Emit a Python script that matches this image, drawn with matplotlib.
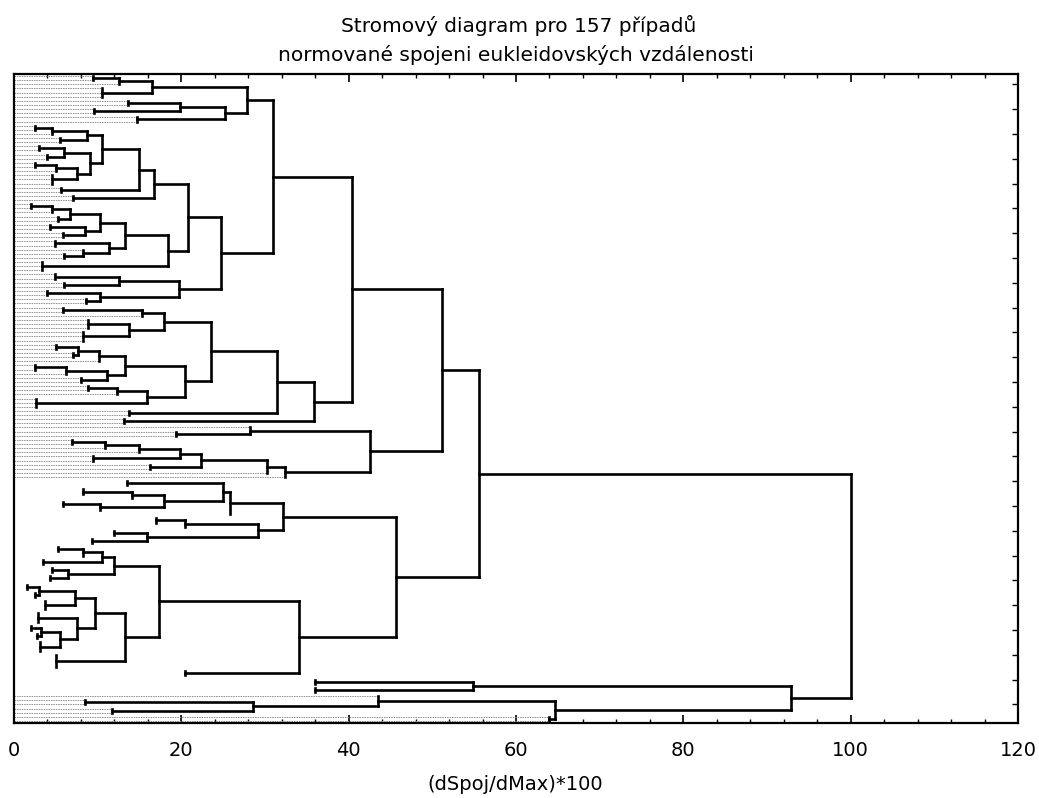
import matplotlib
matplotlib.use("Agg")
import matplotlib.pyplot as plt
from matplotlib.ticker import MultipleLocator
import numpy as np

plt.rcParams["font.family"] = ["DejaVu Sans"]

title_lines = ["Stromový diagram pro 157 případů",
               "normované spojeni eukleidovských vzdálenosti"]
x_label = "(dSpoj/dMax)*100"
x_ticks = [0, 20, 40, 60, 80, 100, 120]

# tree notation: "(a,b)h" = clusters a and b joined at distance h,
# "n@s" = n cases already joined at distance s, "1" = single case
top_part = "(((2@9.5,1)12.5,3@10.5)16.5,((2@13.6,2@9.6)19.8,2@14.7)25.2)27.8"
r1_part = "((2@2.5,1)4.5,2@5.5)8.7"
r2_part = "((2@3,2@4)6,((2@2.5,1)5,3@4.5)7.5)9.1"
s1a_part = "(((2@2,1)4.6,2@5.2)6.7,(2@4.3,2@5.8)8.5)10.3"
s1b_part = "(2@4.9,(1,2@6)8.2)11.4"
p2_part = "((2@4.9,2@6)12.5,(2@4,2@8.6)10.3)19.7"
f1a_part = "((2@5.9,1)15.3,(3@8.9,3@8.3)13.7)17.9"
f1b_part = "((((2@5,2@7)7.7,1)10.1,((2@2.5,1)6.2,2@8)11.1)13.3,((2@8.9,1)12.3,3@2.6)15.9)20.4"
h_part = "(1,2@19.4)28.2"
i_part = "((((((2@6.9,1)10.9,1)14.9,2@9.5)19.8,2@16.3)22.4,1)30.2,1)32.4"
x_part = "(2@13.5,((2@8.3,1)14.1,(2@5.9,1)10.3)17.9)25"
v2_part = "((2@17,1)20.4,(2@11.9,2@9.3)15.9)29.2"
z1_part = "(((2@5.3,1)8.3,2@3.5)10.5,(2@4.5,2@4.3)6.5)11.9"
z2_part = "((((2@1.5,2@2.5)3,3@3.7)7.3,(3@2.9,((2@2,2@2.8)3.2,3@3.1)5.5)7.5)9.7,4@5)13.3"
bottom_part = "((2@36,2@36)54.9,((1,(2@8.5,2@11.7)28.6)43.5,2@64)64.7)92.9"

q_part = f"((({r1_part},{r2_part})10.5,2@5.6)14.9,2@7.1)16.7"
s_part = f"(({s1a_part},{s1b_part})13.3,3@3.3)18.4"
c31_part = f"({top_part},(({q_part},{s_part})20.8,{p2_part})24.8)31"
e_part = f"((({f1a_part},{f1b_part})23.6,2@13.7)31.4,2@13.1)35.8"
u1_part = f"(({c31_part},{e_part})40.4,({h_part},{i_part})42.5)51.1"
u2_part = f"((({x_part},1)25.8,{v2_part})32.2,(({z1_part},{z2_part})17.3,2@20.4)34.1)45.6"
tree_text = f"(({u1_part},{u2_part})55.6,{bottom_part})100"

faded_cases = (98, 149)  # leaf lines lost in the scan


def parse(text):
    pos = 0

    def number():
        nonlocal pos
        start = pos
        while pos < len(text) and (text[pos].isdigit() or text[pos] == "."):
            pos += 1
        return float(text[start:pos])

    def node():
        nonlocal pos
        if text[pos] == "(":
            pos += 1
            kids = [node()]
            while text[pos] == ",":
                pos += 1
                kids.append(node())
            pos += 1
            return {"kids": kids, "h": number()}
        n = int(number())
        s = 0.0
        if pos < len(text) and text[pos] == "@":
            pos += 1
            s = number()
        return {"n": n, "s": s}

    return node()


def layout(nd, counter):
    if "kids" in nd:
        for k in nd["kids"]:
            layout(k, counter)
        ys = [k["y"] for k in nd["kids"]]
        nd["y"] = (min(ys) + max(ys)) / 2
    else:
        nd["leaves"] = list(range(counter[0], counter[0] + nd["n"]))
        counter[0] += nd["n"]
        nd["y"] = float(np.mean(nd["leaves"]))


dark = dict(color="black", lw=1.9, solid_capstyle="projecting", zorder=3)
faint = dict(color="#8c8c8c", lw=0.7, ls=(0, (1.5, 1)), zorder=2)


def draw(ax, nd, parent_h):
    if "kids" in nd:
        ys = [k["y"] for k in nd["kids"]]
        ax.plot([nd["h"], nd["h"]], [min(ys), max(ys)], **dark)
        if parent_h is not None:
            ax.plot([nd["h"], parent_h], [nd["y"], nd["y"]], **dark)
        for k in nd["kids"]:
            draw(ax, k, nd["h"])
    else:
        end = nd["s"] if nd["s"] > 0 else parent_h
        for i in nd["leaves"]:
            if not faded_cases[0] <= i <= faded_cases[1]:
                ax.plot([0, end], [i, i], **faint)
        if nd["s"] > 0:
            ax.plot([nd["s"], nd["s"]], [nd["leaves"][0], nd["leaves"][-1]], **dark)
            ax.plot([nd["s"], parent_h], [nd["y"], nd["y"]], **dark)


root = parse(tree_text)
counter = [0]
layout(root, counter)
n_cases = counter[0]

fig = plt.figure(figsize=(10.39, 7.98), dpi=100)
ax = fig.add_axes([14 / 1039, 1 - 723 / 798, 1004 / 1039, 649 / 798])
draw(ax, root, None)

ax.set_xlim(0, 120)
ax.set_ylim(n_cases - 0.5, -0.5)
ax.set_xticks(x_ticks)
ax.xaxis.set_minor_locator(MultipleLocator(4))
ax.set_yticks(np.arange(2, n_cases, 6))
ax.set_yticklabels([])
ax.tick_params(axis="x", which="major", direction="in", top=True, length=6,
               width=1.2, labelsize=14, pad=13)
ax.tick_params(axis="x", which="minor", direction="in", top=True, length=3, width=1)
ax.tick_params(axis="y", direction="in", left=False, right=True, length=4, width=1)
for sp in ax.spines.values():
    sp.set_linewidth(1.6)

fig.text(519 / 1039, 1 - 25 / 798, title_lines[0], ha="center", va="center", fontsize=14.5)
fig.text(516 / 1039, 1 - 55 / 798, title_lines[1], ha="center", va="center", fontsize=14.5)
fig.text(515 / 1039, 1 - 785 / 798, x_label, ha="center", va="center", fontsize=14)

fig.savefig("out.png", dpi=100)
